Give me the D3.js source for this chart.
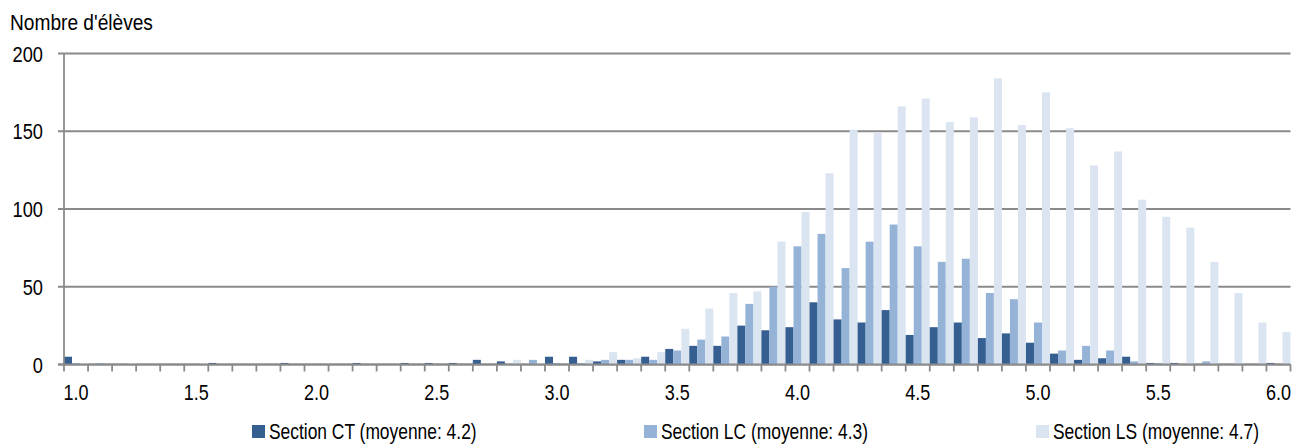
<!DOCTYPE html>
<html>
<head>
<meta charset="utf-8">
<script src="https://cdn.jsdelivr.net/npm/d3@7"></script>
<style>
    body { margin: 0; background: #fff; }
    text { font-family: 'Liberation Sans', Arial, sans-serif; fill: #000; }
</style>
</head>
<body>
<div id="chart"></div>
<script>
// notes (categories)
const notes = ['1.0','1.1','1.2','1.3','1.4','1.5','1.6','1.7','1.8','1.9',
               '2.0','2.1','2.2','2.3','2.4','2.5','2.6','2.7','2.8','2.9',
               '3.0','3.1','3.2','3.3','3.4','3.5','3.6','3.7','3.8','3.9',
               '4.0','4.1','4.2','4.3','4.4','4.5','4.6','4.7','4.8','4.9',
               '5.0','5.1','5.2','5.3','5.4','5.5','5.6','5.7','5.8','5.9','6.0']

// nombre d'eleves par section
const sectionCT = [5,0,0,0,0,0,1,0,0,1, 0,0,1,0,1,1,1,3,2,0,
                   5,5,2,3,5,10,12,12,25,22, 24,40,29,27,35,19,24,27,17,20,
                   14,7,3,4,5,1,1,0,0,0,1]
const sectionLC = [1,1,0,0,0,0,0,0,0,0, 0,0,0,0,0,0,0,0,0,3,
                   1,1,3,3,3,9,16,18,39,50, 76,84,62,79,90,76,66,68,46,42,
                   27,9,12,9,2,1,0,2,0,0,0]
const sectionLS = [1,0,1,0,0,1,0,0,0,0, 0,0,0,0,0,0,0,0,3,1,
                   0,3,8,4,8,23,36,46,47,79, 98,123,151,149,166,171,156,159,184,154,
                   175,152,128,137,106,95,88,66,46,27,21]

const seriesNames = ['Section CT (moyenne: 4.2)', 'Section LC (moyenne: 4.3)', 'Section LS (moyenne: 4.7)']
const seriesColors = ['#365f91', '#95b3d7', '#dbe5f1']
const yTicks = [0, 50, 100, 150, 200]
const xLabels = ['1.0','1.5','2.0','2.5','3.0','3.5','4.0','4.5','5.0','5.5','6.0']

const dimension = {
    width: 1301,
    height: 445,
    left: 64,
    right: 1290.5,
    top: 53.5,
    bottom: 364.5
}

const svg = d3.select('#chart')
    .append('svg')
    .attr('width', dimension.width)
    .attr('height', dimension.height)

// narrow text: the reference uses a condensed face, so squeeze Liberation Sans
function narrowText(parent, x, y, str, size, sx, anchor) {
    return parent.append('g')
        .attr('transform', `translate(${x},${y}) scale(${sx},1)`)
        .append('text')
        .attr('text-anchor', anchor || 'start')
        .style('font-size', size + 'px')
        .text(str)
}

const table = notes.map((n, i) => ({ note: n, values: [sectionCT[i], sectionLC[i], sectionLS[i]] }))

// scales
const xScale = d3.scaleBand()
    .domain(notes)
    .range([dimension.left, dimension.right])
    .padding(0)

const xSub = d3.scaleBand()
    .domain([0, 1, 2])
    .range([0, xScale.bandwidth()])
    .padding(0)

const yScale = d3.scaleLinear()
    .domain([0, 200])
    .range([dimension.bottom, dimension.top])

// grid lines
svg.append('g')
    .selectAll('line')
    .data(yTicks)
    .join('line')
    .attr('x1', dimension.left - 6)
    .attr('x2', dimension.right)
    .attr('y1', d => yScale(d))
    .attr('y2', d => yScale(d))
    .attr('stroke', '#8a8a8a')
    .attr('stroke-width', 1.8)

// y axis labels
const yLab = svg.append('g')
yTicks.forEach(t => {
    narrowText(yLab, 43, yScale(t) + 8, t, 22.5, 0.81, 'end')
})

// bars
const groups = svg.append('g')
    .selectAll('g')
    .data(table)
    .join('g')
    .attr('transform', d => `translate(${xScale(d.note)},0)`)

groups.selectAll('rect')
    .data(d => d.values.map((v, k) => ({ k, v })))
    .join('rect')
    .attr('x', d => xSub(d.k))
    .attr('width', xSub.bandwidth())
    .attr('y', d => yScale(d.v))
    .attr('height', d => yScale(0) - yScale(d.v))
    .attr('fill', d => seriesColors[d.k])

// y axis line
svg.append('line')
    .attr('x1', dimension.left).attr('x2', dimension.left)
    .attr('y1', dimension.top).attr('y2', dimension.bottom)
    .attr('stroke', '#8a8a8a')
    .attr('stroke-width', 1.8)

// x axis with ticks between categories
const tickPos = notes.map(n => xScale(n)).concat([dimension.right])
svg.append('g')
    .selectAll('line')
    .data(tickPos)
    .join('line')
    .attr('x1', d => d).attr('x2', d => d)
    .attr('y1', dimension.bottom).attr('y2', dimension.bottom + 7)
    .attr('stroke', '#8a8a8a')
    .attr('stroke-width', 1.8)

svg.append('line')
    .attr('x1', dimension.left - 6).attr('x2', dimension.right)
    .attr('y1', dimension.bottom).attr('y2', dimension.bottom)
    .attr('stroke', '#8a8a8a')
    .attr('stroke-width', 1.8)

const xLab = svg.append('g')
xLabels.forEach(l => {
    narrowText(xLab, xScale(l) + xScale.bandwidth() / 2, 400, l, 22, 0.82, 'middle')
})

// title
narrowText(svg, 10, 29.5, "Nombre d'élèves", 21.5, 0.89, 'start')

// legend
const legendX = [252, 644, 1036]
seriesNames.forEach((name, i) => {
    const g = svg.append('g').attr('transform', `translate(${legendX[i]},425)`)
    g.append('rect')
        .attr('width', 13)
        .attr('height', 13)
        .attr('fill', seriesColors[i])
    narrowText(g, 17, 13.5, name, 21.5, 0.81, 'start')
})
</script>
</body>
</html>
